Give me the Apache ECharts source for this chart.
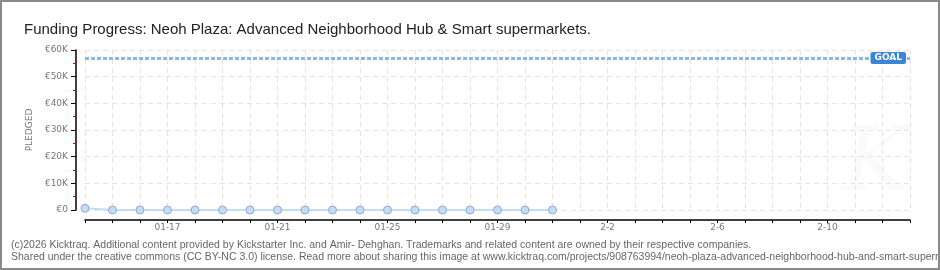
<!DOCTYPE html>
<html><head><meta charset="utf-8">
<script src="https://cdn.jsdelivr.net/npm/echarts@6/dist/echarts.min.js"></script>
<style>
html,body{margin:0;padding:0;background:#fff;}
#wrap{position:relative;width:940px;height:270px;box-sizing:border-box;border:2px solid #8a8a8a;overflow:hidden;}
#c{position:absolute;left:-2px;top:-2px;width:940px;height:270px;}
</style></head><body>
<div id="wrap"><div id="c"></div></div>
<script>
const titleText = 'Funding Progress: Neoh Plaza: Advanced Neighborhood Hub & Smart supermarkets.';
const footer1 = '(c)2026 Kicktraq. Additional content provided by Kickstarter Inc. and Amir- Dehghan. Trademarks and related content are owned by their respective companies.';
const footer2 = 'Shared under the creative commons (CC BY-NC 3.0) license. Read more about sharing this image at www.kicktraq.com/projects/908763994/neoh-plaza-advanced-neighborhood-hub-and-smart-supermarkets/';
const categories = ['01-14','01-15','01-16','01-17','01-18','01-19','01-20','01-21','01-22','01-23','01-24','01-25','01-26','01-27','01-28','01-29','01-30','01-31','2-1','2-2','2-3','2-4','2-5','2-6','2-7','2-8','2-9','2-10','2-11','2-12','2-13'];
const tickLabels = ['01-17','01-21','01-25','01-29','2-2','2-6','2-10'];
const pledged = [650,0,0,0,0,0,0,0,0,0,0,0,0,0,0,0,0,0];
const goal = 57000;
const yTicks = [0,10000,20000,30000,40000,50000,60000];

const chart = echarts.init(document.getElementById('c'), null, {renderer:'canvas'});
const lblFont = 'DejaVu Sans';
chart.setOption({
  animation:false,
  backgroundColor:'#fff',
  title:{text:titleText,left:19,top:17,textStyle:{fontFamily:'Liberation Sans',fontWeight:'normal',fontSize:15,color:'#222'}},
  graphic:[
    {type:'text',left:11,top:240,style:{text:footer1,fontFamily:'Liberation Sans',fontSize:10.5,fill:'#666'}},
    {type:'text',left:11,top:252,style:{text:footer2,fontFamily:'Liberation Sans',fontSize:10.5,fill:'#666'}},
    {type:'text',left:842,top:122,style:{text:'K',fontFamily:'DejaVu Serif',fontStyle:'italic',fontSize:90,fill:'rgba(0,0,0,0.018)'}}
  ],
  grid:{left:85,right:30,top:50,bottom:60},
  xAxis:{type:'category',data:categories,boundaryGap:false,offset:10,
    axisLine:{onZero:false,lineStyle:{color:'#000',width:1.5}},
    axisTick:{show:true,interval:0,length:3,lineStyle:{color:'#000'}},
    axisLabel:{interval:0,margin:3,fontFamily:lblFont,fontSize:9,color:'#777',
      formatter:v=>tickLabels.includes(v)?v:''},
    splitLine:{show:true,interval:0,lineStyle:{color:'#e4e4e4',type:[5,4]}}},
  yAxis:{type:'value',min:0,max:60000,interval:10000,offset:9,
    name:'PLEDGED',nameLocation:'middle',nameGap:37,nameRotate:90,
    nameTextStyle:{fontFamily:lblFont,fontSize:9,color:'#777',letterSpacing:2},
    axisLine:{show:true,lineStyle:{color:'#000',width:1.5}},
    axisTick:{show:true,length:5,lineStyle:{color:'#000'}},
    minorTick:{show:true,splitNumber:2,length:3,lineStyle:{color:'#e00000'}},
    axisLabel:{margin:8,fontFamily:lblFont,fontSize:9,color:'#777',
      formatter:v=>yTicks.includes(v)?(v===0?'€0':'€'+(v/1000)+'K'):''},
    splitLine:{show:true,lineStyle:{color:'#e4e4e4',type:[5,4]}}},
  series:[{
    type:'line',data:pledged,symbol:'circle',symbolSize:8,
    lineStyle:{color:'#c4dcf4',width:2},
    itemStyle:{color:'#c4dcf4',borderColor:'#8eaad0',borderWidth:1},
    markLine:{symbol:'none',silent:true,
      lineStyle:{color:'#8fb6e3',width:3,type:[4,2]},
      label:{show:true,position:'insideEnd',formatter:'GOAL',color:'#fff',
        backgroundColor:'#3b86d4',borderRadius:2,padding:[2,4,1,4],
        fontFamily:lblFont,fontSize:9,fontWeight:'bold',distance:4},
      data:[{yAxis:goal}]}
  }]
});
</script></body></html>
